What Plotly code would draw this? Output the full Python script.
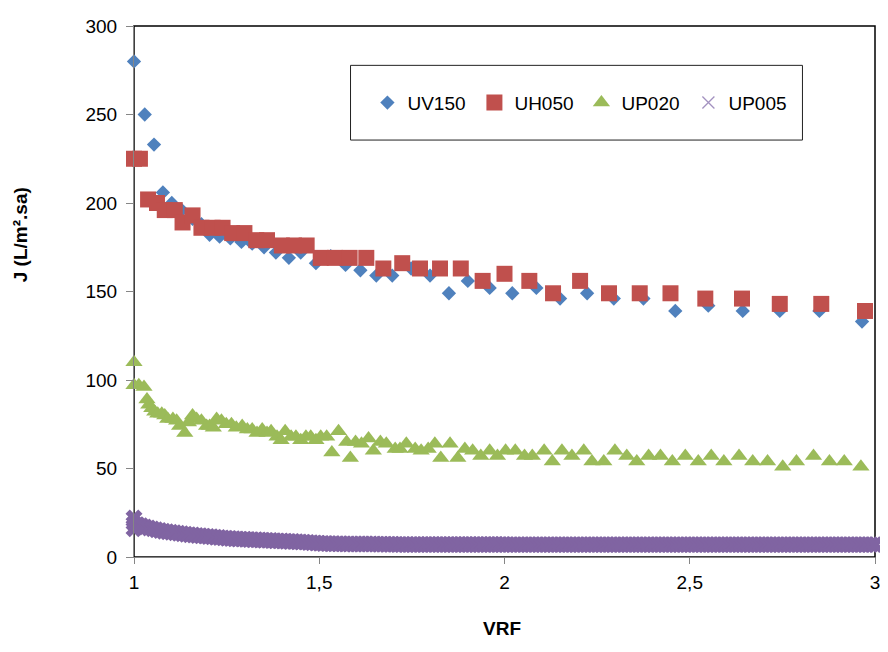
import plotly.graph_objects as go

# ---------------- data ----------------
UV150_VRF = [1.000, 1.029, 1.054, 1.078, 1.102, 1.129, 1.158, 1.182, 1.204, 1.231,
             1.260, 1.290, 1.319, 1.351, 1.383, 1.418, 1.450, 1.491, 1.531, 1.571,
             1.611, 1.654, 1.697, 1.748, 1.799, 1.850, 1.901, 1.960, 2.021, 2.086,
             2.150, 2.223, 2.295, 2.375, 2.461, 2.550, 2.643, 2.743, 2.850, 2.965]
UV150_J = [280, 250, 233, 206, 200, 196, 191, 188, 182, 181,
           180, 178, 177, 175, 172, 169, 172, 166, 170, 165,
           162, 159, 159, 163, 159, 149, 156, 152, 149, 152,
           146, 149, 146, 146, 139, 142, 139, 139, 139, 133]

UH050_VRF = [1.000, 1.016, 1.038, 1.062, 1.083, 1.110, 1.131, 1.158, 1.182, 1.212,
             1.239, 1.265, 1.298, 1.330, 1.359, 1.399, 1.432, 1.466, 1.504, 1.542,
             1.582, 1.627, 1.673, 1.724, 1.772, 1.826, 1.882, 1.941, 2.000, 2.067,
             2.131, 2.204, 2.282, 2.365, 2.448, 2.542, 2.641, 2.743, 2.855, 2.973]
UH050_J = [225, 225, 202, 200, 196, 196, 189, 193, 186, 186,
           186, 183, 183, 179, 179, 176, 176, 176, 169, 169,
           169, 169, 163, 166, 163, 163, 163, 156, 160, 156,
           149, 156, 149, 149, 149, 146, 146, 143, 143, 139]

UP020_VRF = [1.000, 1.000, 1.013, 1.027, 1.035, 1.040, 1.048, 1.056, 1.064, 1.075,
             1.083, 1.091, 1.105, 1.115, 1.123, 1.137, 1.147, 1.158, 1.169, 1.182,
             1.196, 1.204, 1.214, 1.223, 1.236, 1.249, 1.263, 1.276, 1.292, 1.306,
             1.319, 1.332, 1.346, 1.359, 1.370, 1.386, 1.397, 1.408, 1.424, 1.437,
             1.450, 1.464, 1.477, 1.491, 1.504, 1.520, 1.534, 1.552, 1.574, 1.584,
             1.598, 1.614, 1.633, 1.646, 1.665, 1.681, 1.705, 1.718, 1.735, 1.759,
             1.775, 1.794, 1.812, 1.828, 1.853, 1.874, 1.893, 1.914, 1.936, 1.960,
             1.981, 2.003, 2.029, 2.054, 2.075, 2.107, 2.129, 2.155, 2.182, 2.214,
             2.236, 2.268, 2.298, 2.330, 2.357, 2.389, 2.421, 2.453, 2.488, 2.523,
             2.558, 2.592, 2.633, 2.670, 2.710, 2.751, 2.788, 2.834, 2.877, 2.917,
             2.962]
UP020_J = [110, 97, 97, 96, 89, 86, 84, 82, 81, 81,
           80, 78, 78, 77, 74, 70, 76, 80, 78, 77,
           74, 74, 73, 78, 77, 75, 75, 73, 74, 72,
           72, 70, 72, 70, 71, 68, 66, 71, 68, 68,
           66, 68, 68, 66, 68, 68, 59, 71, 65, 56,
           65, 64, 67, 60, 65, 64, 61, 61, 64, 61,
           60, 61, 64, 56, 64, 56, 61, 60, 57, 60,
           57, 60, 60, 57, 57, 60, 54, 60, 57, 60,
           54, 54, 60, 57, 54, 57, 57, 54, 57, 54,
           57, 54, 57, 54, 54, 51, 54, 57, 54, 54,
           51]

UP005_VRF = [1.00, 1.00, 1.00,
             1.01, 1.02, 1.03, 1.04, 1.05, 1.06, 1.07, 1.08, 1.09, 1.10,
             1.11, 1.12, 1.13, 1.14, 1.15, 1.16, 1.17, 1.18, 1.19, 1.20,
             1.21, 1.22, 1.23, 1.24, 1.25, 1.26, 1.27, 1.28, 1.29, 1.30,
             1.31, 1.32, 1.33, 1.34, 1.35, 1.36, 1.37, 1.38, 1.39, 1.40,
             1.41, 1.42, 1.43, 1.44, 1.45, 1.46, 1.47, 1.48, 1.49, 1.50,
             1.51, 1.52, 1.53, 1.54, 1.55, 1.56, 1.57, 1.58, 1.59, 1.60,
             1.61, 1.62, 1.63, 1.64, 1.65, 1.66, 1.67, 1.68, 1.69, 1.70,
             1.71, 1.72, 1.73, 1.74, 1.75, 1.76, 1.77, 1.78, 1.79, 1.80,
             1.81, 1.82, 1.83, 1.84, 1.85, 1.86, 1.87, 1.88, 1.89, 1.90,
             1.91, 1.92, 1.93, 1.94, 1.95, 1.96, 1.97, 1.98, 1.99, 2.00,
             2.01, 2.02, 2.03, 2.04, 2.05, 2.06, 2.07, 2.08, 2.09, 2.10,
             2.11, 2.12, 2.13, 2.14, 2.15, 2.16, 2.17, 2.18, 2.19, 2.20,
             2.21, 2.22, 2.23, 2.24, 2.25, 2.26, 2.27, 2.28, 2.29, 2.30,
             2.31, 2.32, 2.33, 2.34, 2.35, 2.36, 2.37, 2.38, 2.39, 2.40,
             2.41, 2.42, 2.43, 2.44, 2.45, 2.46, 2.47, 2.48, 2.49, 2.50,
             2.51, 2.52, 2.53, 2.54, 2.55, 2.56, 2.57, 2.58, 2.59, 2.60,
             2.61, 2.62, 2.63, 2.64, 2.65, 2.66, 2.67, 2.68, 2.69, 2.70,
             2.71, 2.72, 2.73, 2.74, 2.75, 2.76, 2.77, 2.78, 2.79, 2.80,
             2.81, 2.82, 2.83, 2.84, 2.85, 2.86, 2.87, 2.88, 2.89, 2.90,
             2.91, 2.92, 2.93, 2.94, 2.95, 2.96, 2.97, 2.98, 2.99, 3.00]
UP005_J = [22.0, 19.0, 16.0,
           18.3, 17.6, 17.0, 16.4, 15.9, 15.4, 15.0, 14.6, 14.3, 14.0,
           13.7, 13.4, 13.1, 12.9, 12.6, 12.4, 12.2, 12.0, 11.8, 11.6,
           11.4, 11.2, 11.0, 10.8, 10.6, 10.5, 10.3, 10.2, 10.1, 10.0,
           9.9, 9.8, 9.7, 9.6, 9.5, 9.4, 9.3, 9.2, 9.1, 9.0,
           8.9, 8.8, 8.7, 8.6, 8.5, 8.4, 8.2, 8.1, 7.9, 7.8,
           7.6, 7.6, 7.5, 7.5, 7.5, 7.5, 7.4, 7.4, 7.4, 7.4,
           7.3, 7.3, 7.3, 7.3, 7.3, 7.2, 7.2, 7.2, 7.2, 7.2,
           7.1, 7.1, 7.1, 7.1, 7.1, 7.1, 7.1, 7.1, 7.1, 7.1,
           7.1, 7.1, 7.1, 7.1, 7.1, 7.1, 7.1, 7.1, 7.1, 7.1,
           7.1, 7.1, 7.1, 7.1, 7.1, 7.1, 7.1, 7.1, 7.1, 7.1,
           7.0, 7.0, 7.0, 7.0, 7.0, 7.0, 7.0, 7.0, 7.0, 7.0,
           7.0, 7.0, 7.0, 7.0, 7.0, 7.0, 7.0, 7.0, 7.0, 7.0,
           7.0, 7.0, 7.0, 7.0, 7.0, 7.0, 7.0, 7.0, 7.0, 7.0,
           7.0, 7.0, 7.0, 7.0, 7.0, 7.0, 7.0, 7.0, 7.0, 7.0,
           7.0, 7.0, 7.0, 7.0, 7.0, 7.0, 7.0, 7.0, 7.0, 7.0,
           7.0, 7.0, 7.0, 7.0, 7.0, 7.0, 7.0, 7.0, 7.0, 7.0,
           7.0, 7.0, 7.0, 7.0, 7.0, 7.0, 7.0, 7.0, 7.0, 7.0,
           7.0, 7.0, 7.0, 7.0, 7.0, 7.0, 7.0, 7.0, 7.0, 7.0,
           7.0, 7.0, 7.0, 7.0, 7.0, 7.0, 7.0, 7.0, 7.0, 7.0,
           7.0, 7.0, 7.0, 7.0, 7.0, 7.0, 7.0, 7.0, 7.0, 7.0]

X_TICKS = [1, 1.5, 2, 2.5, 3]
X_TICK_TEXT = ["1", "1,5", "2", "2,5", "3"]
Y_TICKS = [0, 50, 100, 150, 200, 250, 300]

# ---------------- styling ----------------
FONT = "Liberation Sans, Arial, sans-serif"
BLUE, RED, GREEN, PURPLE = "#4F81BD", "#C0504D", "#9BBB59", "#8064A2"
AXIS_GRAY = "#868686"

fig = go.Figure()
fig.add_trace(go.Scatter(x=UV150_VRF, y=UV150_J, mode="markers", name="UV150",
                         cliponaxis=False,
                         marker=dict(symbol="diamond", size=11, color=BLUE)))
fig.add_trace(go.Scatter(x=UH050_VRF, y=UH050_J, mode="markers", name="UH050",
                         cliponaxis=False,
                         marker=dict(symbol="square", size=16, color=RED)))
fig.add_trace(go.Scatter(x=UP020_VRF, y=UP020_J, mode="markers", name="UP020",
                         cliponaxis=False,
                         marker=dict(symbol="triangle-up", size=15, color=GREEN)))
fig.add_trace(go.Scatter(x=UP005_VRF, y=UP005_J, mode="markers", name="UP005",
                         cliponaxis=False, showlegend=False,
                         marker=dict(symbol="x", size=15, color=PURPLE,
                                     line=dict(width=0))))
# legend entry for UP005 (thin cross as in the original legend)
fig.add_trace(go.Scatter(x=[None], y=[None], mode="markers", name="UP005",
                         marker=dict(symbol="x-thin", size=12, color="#a392c0",
                                     line=dict(width=1.3, color="#a392c0"))))

# plot-area border (black; left/bottom are covered by the gray axes) and legend box
fig.add_shape(type="rect", xref="paper", yref="paper", x0=0, x1=1, y0=0, y1=1,
              layer="below", line=dict(color="black", width=1.5))
fig.add_shape(type="rect", xref="paper", yref="paper",
              x0=0.2922, x1=0.9021, y0=0.7852, y1=0.9259,
              line=dict(color="#222222", width=1))

fig.add_annotation(text="<b>J (L/m².sa)</b>", xref="paper", yref="paper",
                   x=-0.1528, y=0.6074, textangle=-90, showarrow=False,
                   xanchor="center", yanchor="middle",
                   font=dict(family=FONT, size=19, color="black"))
fig.add_annotation(text="<b>VRF</b>", xref="paper", yref="paper",
                   x=0.496, y=-0.1352, showarrow=False,
                   xanchor="center", yanchor="middle",
                   font=dict(family=FONT, size=19, color="black"))

# the page places the figure 8 px from the window's top-left corner
fig.update_layout(
    width=880, height=644,
    margin=dict(l=126, r=8, t=9, b=95),
    paper_bgcolor="white", plot_bgcolor="white",
    font=dict(family=FONT, size=19, color="black"),
    showlegend=True,
    legend=dict(orientation="h", x=0.315, y=0.8556, xanchor="left", yanchor="middle",
                bgcolor="rgba(0,0,0,0)", borderwidth=0, entrywidth=62,
                font=dict(family=FONT, size=19, color="black")),
    xaxis=dict(range=[1, 3], tickvals=X_TICKS, ticktext=X_TICK_TEXT,
               showgrid=False, zeroline=False, showline=True,
               linecolor=AXIS_GRAY, linewidth=1,
               ticks="outside", ticklen=6, tickcolor=AXIS_GRAY, tickwidth=1,
               ticklabelstandoff=2, ticklabeloverflow="allow",
               tickfont=dict(family=FONT, size=19, color="black")),
    yaxis=dict(range=[0, 300], tickvals=Y_TICKS,
               showgrid=False, zeroline=False, showline=True,
               linecolor=AXIS_GRAY, linewidth=1,
               ticks="outside", ticklen=7, tickcolor=AXIS_GRAY, tickwidth=1,
               ticklabelstandoff=5, ticklabeloverflow="allow",
               tickfont=dict(family=FONT, size=19, color="black")),
)

fig.write_html("out.html")
